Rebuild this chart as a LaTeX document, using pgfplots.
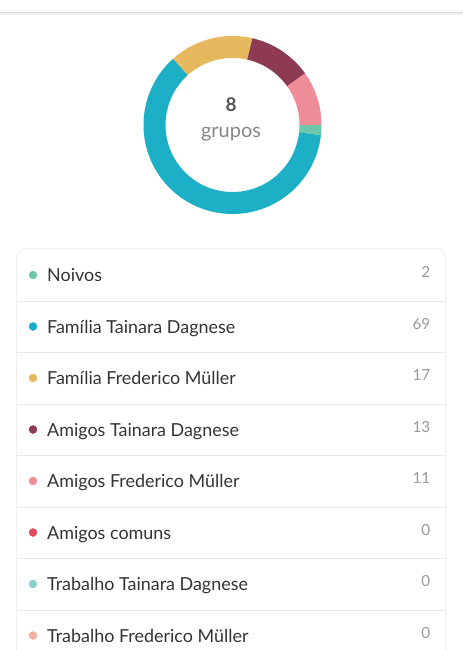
\documentclass[border=0pt]{standalone}
\usepackage{pgfplots}
\pgfplotsset{compat=1.18}
\usepackage{fontspec}
\setmainfont{Lato}
\definecolor{cNoivos}{HTML}{6DC8AA}
\definecolor{cFT}{HTML}{1CAFC6}
\definecolor{cFF}{HTML}{E7B95F}
\definecolor{cAT}{HTML}{8E3A52}
\definecolor{cAF}{HTML}{EE8C98}
\definecolor{cAC}{HTML}{E54B5C}
\definecolor{cTT}{HTML}{8FD0C8}
\definecolor{cTF}{HTML}{F4B0A3}
\definecolor{sep}{HTML}{EBEBEB}
\definecolor{boxc}{HTML}{F0F0F0}
\definecolor{txt}{HTML}{333333}
\definecolor{num}{HTML}{999999}
\tikzset{
  lab/.style={anchor=mid west, inner sep=0pt, font=\fontsize{18}{18}\selectfont, text=txt},
  nm/.style={anchor=mid east, inner sep=0pt, font=\fontsize{15.3}{15.3}\selectfont, text=num},
  dot/.style={only marks, mark=*, mark size=4bp},
  sepl/.style={draw=sep, line width=1bp},
}
\begin{document}
\begin{tikzpicture}
% group sizes
\def\vA{2}\def\vB{69}\def\vC{17}\def\vD{13}\def\vE{11}
\pgfmathsetmacro\tot{\vA+\vB+\vC+\vD+\vE}
\pgfmathsetmacro\aA{0}
\pgfmathsetmacro\aB{\aA-\vA/\tot*360}
\pgfmathsetmacro\aC{\aB-\vB/\tot*360}
\pgfmathsetmacro\aD{\aC-\vC/\tot*360}
\pgfmathsetmacro\aE{\aD-\vD/\tot*360}
\pgfmathsetmacro\aF{\aE-\vE/\tot*360}
\begin{axis}[
  scale only axis, width=463bp, height=650bp,
  xmin=0, xmax=463, ymin=0, ymax=650, y dir=reverse,
  axis lines=none, clip=false,
]
% top line
\addplot[draw=black!6, line width=3bp] coordinates {(0,13.5) (463,13.5)};
\addplot[draw=black!14, line width=1bp] coordinates {(0,12.5) (463,12.5)};
% donut
\addplot[draw=cNoivos, line width=22bp, domain=\aB:\aA, samples=10] ({232.5+78*cos(x)},{125-78*sin(x)});
\addplot[draw=cFT, line width=22bp, domain=\aC:\aB, samples=120] ({232.5+78*cos(x)},{125-78*sin(x)});
\addplot[draw=cFF, line width=22bp, domain=\aD:\aC, samples=40] ({232.5+78*cos(x)},{125-78*sin(x)});
\addplot[draw=cAT, line width=22bp, domain=\aE:\aD, samples=40] ({232.5+78*cos(x)},{125-78*sin(x)});
\addplot[draw=cAF, line width=22bp, domain=\aF:\aE, samples=40] ({232.5+78*cos(x)},{125-78*sin(x)});
\node[font=\fontsize{19}{19}\selectfont\bfseries, text=black!68] at (axis cs:231,105) {8};
\node[font=\fontsize{20}{20}\selectfont, text=black!47] at (axis cs:231,134) {grupos};
% list box
\draw[boxc, line width=1bp, rounded corners=9bp] (axis cs:16.5,650) -- (axis cs:16.5,248.5) -- (axis cs:445.5,248.5) -- (axis cs:445.5,650);
\addplot[sepl] coordinates {(16,301) (446,301)};
\addplot[sepl] coordinates {(16,352.5) (446,352.5)};
\addplot[sepl] coordinates {(16,404) (446,404)};
\addplot[sepl] coordinates {(16,455.5) (446,455.5)};
\addplot[sepl] coordinates {(16,507) (446,507)};
\addplot[sepl] coordinates {(16,558.5) (446,558.5)};
\addplot[sepl] coordinates {(16,610) (446,610)};
% dots
\addplot[dot, color=cNoivos] coordinates {(33,275)};
\addplot[dot, color=cFT] coordinates {(33,326.5)};
\addplot[dot, color=cFF] coordinates {(33,378)};
\addplot[dot, color=cAT] coordinates {(33,429.5)};
\addplot[dot, color=cAF] coordinates {(33,481)};
\addplot[dot, color=cAC] coordinates {(33,532.5)};
\addplot[dot, color=cTT] coordinates {(33,584)};
\addplot[dot, color=cTF] coordinates {(33,635.5)};
% labels
\node[lab] at (axis cs:47,279) {Noivos};
\node[lab] at (axis cs:47,330.5) {Família Tainara Dagnese};
\node[lab] at (axis cs:47,382) {Família Frederico Müller};
\node[lab] at (axis cs:47,433.5) {Amigos Tainara Dagnese};
\node[lab] at (axis cs:47,485) {Amigos Frederico Müller};
\node[lab] at (axis cs:47,536.5) {Amigos comuns};
\node[lab] at (axis cs:47,588) {Trabalho Tainara Dagnese};
\node[lab] at (axis cs:47,639.5) {Trabalho Frederico Müller};
\node[nm] at (axis cs:430.5,275) {2};
\node[nm] at (axis cs:430.5,326.5) {69};
\node[nm] at (axis cs:430.5,378) {17};
\node[nm] at (axis cs:430.5,429.5) {13};
\node[nm] at (axis cs:430.5,481) {11};
\node[nm] at (axis cs:430.5,532.5) {0};
\node[nm] at (axis cs:430.5,584) {0};
\node[nm] at (axis cs:430.5,635.5) {0};
\end{axis}
\pgfresetboundingbox
\path (0,0) rectangle (463bp,650bp);
\end{tikzpicture}
\end{document}
